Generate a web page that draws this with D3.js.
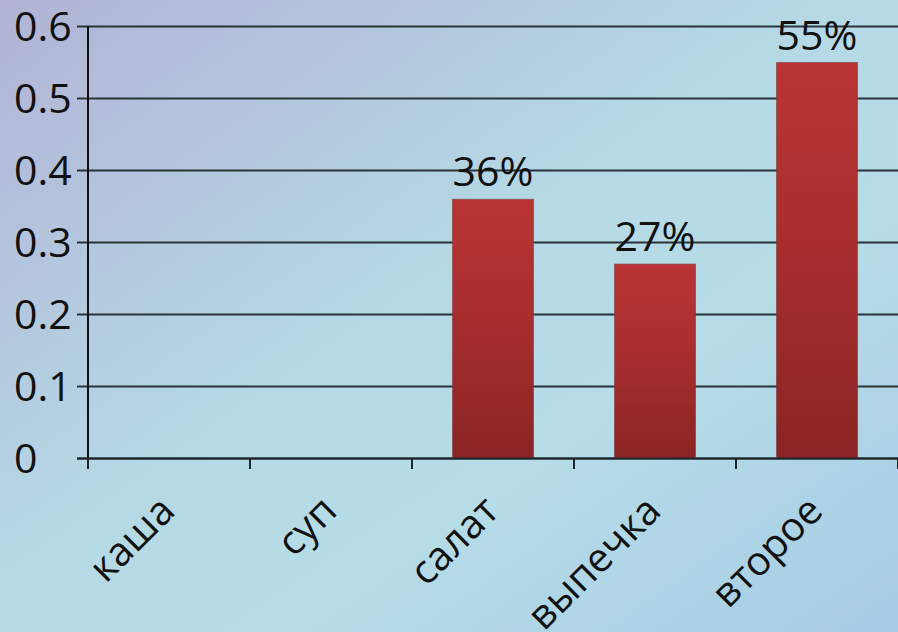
<!DOCTYPE html>
<html>
<head>
<meta charset="utf-8">
<script src="https://cdn.jsdelivr.net/npm/d3@7/dist/d3.min.js"></script>
<style>
  html, body { margin: 0; padding: 0; }
  body { width: 898px; height: 632px; overflow: hidden; }
  text { font-family: "Open Sans", "Noto Sans", sans-serif; fill: #111; }
</style>
</head>
<body>
<svg id="chart" width="898" height="632"></svg>
<script>
// Доля выбранных блюд
const categories = ["каша", "суп", "салат", "выпечка", "второе"];
const values = [0, 0, 0.36, 0.27, 0.55];
const barLabels = [null, null, "36%", "27%", "55%"];
const yTicks = [0, 0.1, 0.2, 0.3, 0.4, 0.5, 0.6];
const yTickLabels = ["0", "0.1", "0.2", "0.3", "0.4", "0.5", "0.6"];

const W = 898, H = 632;
const svg = d3.select("#chart");
const defs = svg.append("defs");

// background wash
const bg = defs.append("linearGradient").attr("id", "bg")
  .attr("x1", 0).attr("y1", 0).attr("x2", 1).attr("y2", 1);
[[0, "#b2b3d5"], [0.45, "#b5d8e5"], [0.65, "#b6dde7"], [1, "#a7cce6"]]
  .forEach(([o, c]) => bg.append("stop").attr("offset", o).attr("stop-color", c));

// bar fill: red fading darker toward the base
const bar = defs.append("linearGradient").attr("id", "bar")
  .attr("x1", 0).attr("y1", 0).attr("x2", 0).attr("y2", 1);
[[0, "#b93434"], [0.5, "#a62d2d"], [1, "#8a2424"]]
  .forEach(([o, c]) => bar.append("stop").attr("offset", o).attr("stop-color", c));

svg.append("rect").attr("width", W).attr("height", H).attr("fill", "url(#bg)");

const x = d3.scaleBand().domain(categories).range([88, 898])
  .paddingInner(0.5).paddingOuter(0.25);
const y = d3.scaleLinear().domain([0, 0.6]).range([458.5, 26.5]);

// horizontal gridlines
svg.append("g").selectAll("line").data(yTicks).join("line")
  .attr("x1", 77).attr("x2", W)
  .attr("y1", d => y(d)).attr("y2", d => y(d))
  .attr("stroke", "#27343c").attr("stroke-width", 2.2);

// y tick labels (left aligned)
svg.append("g").selectAll("text").data(yTicks).join("text")
  .attr("x", 14).attr("y", d => y(d))
  .attr("dy", "0.36em")
  .attr("font-size", 41)
  .text((d, i) => yTickLabels[i]);

// bars
svg.append("g").selectAll("rect").data(categories.map((c, i) => ({ c, v: values[i], l: barLabels[i] })).filter(d => d.v > 0))
  .join("rect")
  .attr("x", d => x(d.c)).attr("width", x.bandwidth())
  .attr("y", d => y(d.v)).attr("height", d => y(0) - y(d.v))
  .attr("fill", "url(#bar)")
  .attr("stroke", "#7d3a3a").attr("stroke-opacity", 0.6).attr("stroke-width", 1);

// value labels
svg.append("g").selectAll("text").data(categories.map((c, i) => ({ c, v: values[i], l: barLabels[i] })).filter(d => d.l))
  .join("text")
  .attr("x", d => x(d.c) + x.bandwidth() / 2)
  .attr("y", d => y(d.v) - 13)
  .attr("text-anchor", "middle")
  .attr("font-size", 41)
  .text(d => d.l);

// axes lines
svg.append("line").attr("x1", 88).attr("x2", 88).attr("y1", y(0.6)).attr("y2", 469)
  .attr("stroke", "#111").attr("stroke-width", 2);
svg.append("line").attr("x1", 77).attr("x2", W).attr("y1", y(0)).attr("y2", y(0))
  .attr("stroke", "#1c262c").attr("stroke-width", 2.2);

// x ticks at band boundaries
const step = x.step();
const tickXs = categories.map(c => x(c) - step * 0.25).concat([x(categories[categories.length - 1]) + x.bandwidth() + step * 0.25]);
svg.append("g").selectAll("line").data(tickXs).join("line")
  .attr("x1", d => d).attr("x2", d => d)
  .attr("y1", y(0)).attr("y2", 469)
  .attr("stroke", "#1c262c").attr("stroke-width", 2);

// category labels, rotated
svg.append("g").selectAll("text").data(categories).join("text")
  .attr("transform", d => `translate(${x(d) + x.bandwidth() / 2 + 8},513) rotate(-45)`)
  .attr("text-anchor", "end")
  .attr("font-size", 40)
  .text(d => d);
</script>
</body>
</html>
